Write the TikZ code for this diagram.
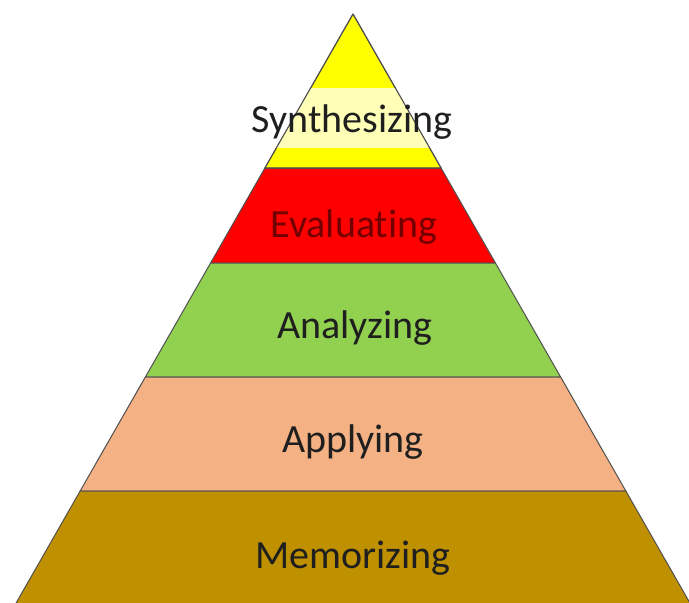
\documentclass[tikz,border=0pt]{standalone}
\usepackage{fontspec}
\setmainfont{Carlito}[Ligatures={NoCommon}]
\usetikzlibrary{calc}
\definecolor{lvlyellow}{HTML}{FFFF00}
\definecolor{lvlpale}{HTML}{FFFFB8}
\definecolor{lvlred}{HTML}{FF0000}
\definecolor{lvlgreen}{HTML}{92D050}
\definecolor{lvlsalmon}{HTML}{F4B183}
\definecolor{lvlbrown}{HTML}{BF9000}
\definecolor{edgegray}{HTML}{505050}
\begin{document}
\begin{tikzpicture}[
  x=1pt,y=-1pt,
  layerband/.style={draw=edgegray,line width=1pt,line join=round},
  levellabel/.style={anchor=base,inner sep=0pt,
                     font=\fontsize{40}{48}\selectfont,text=black!88}
]
\useasboundingbox (0,0) rectangle (689,603);
\clip (0,0) rectangle (689,603);
% pyramid side: x = 353 -+ 0.572*(y-14)
\foreach \ya/\yb/\c in {14/168/lvlyellow,168/263/lvlred,263/377/lvlgreen,
                        377/491/lvlsalmon,491/640/lvlbrown}
  \path[layerband,fill=\c]
    ({353-0.572*(\ya-14)},\ya)--({353+0.572*(\ya-14)},\ya)
    --({353+0.572*(\yb-14)},\yb)--({353-0.572*(\yb-14)},\yb)--cycle;
% pale strip behind the top label
\begin{scope}
  \clip (353,14)--({353+0.572*154},168)--({353-0.572*154},168)--cycle;
  \fill[lvlpale] (0,88) rectangle (689,148);
\end{scope}
\draw[layerband] (353,14)--({353+0.572*154},168)--({353-0.572*154},168)--cycle;
\node[levellabel] (synth) at (352,132) {Synthesizing};
\node[levellabel,text=lvlred!45!black] (eval) at (354,237) {Evaluating};
\node[levellabel] (analyze) at (355,338) {Analyzing};
\node[levellabel] (apply) at (353,452) {Applying};
\node[levellabel] (memo) at (353,568) {Memorizing};
\end{tikzpicture}
\end{document}
